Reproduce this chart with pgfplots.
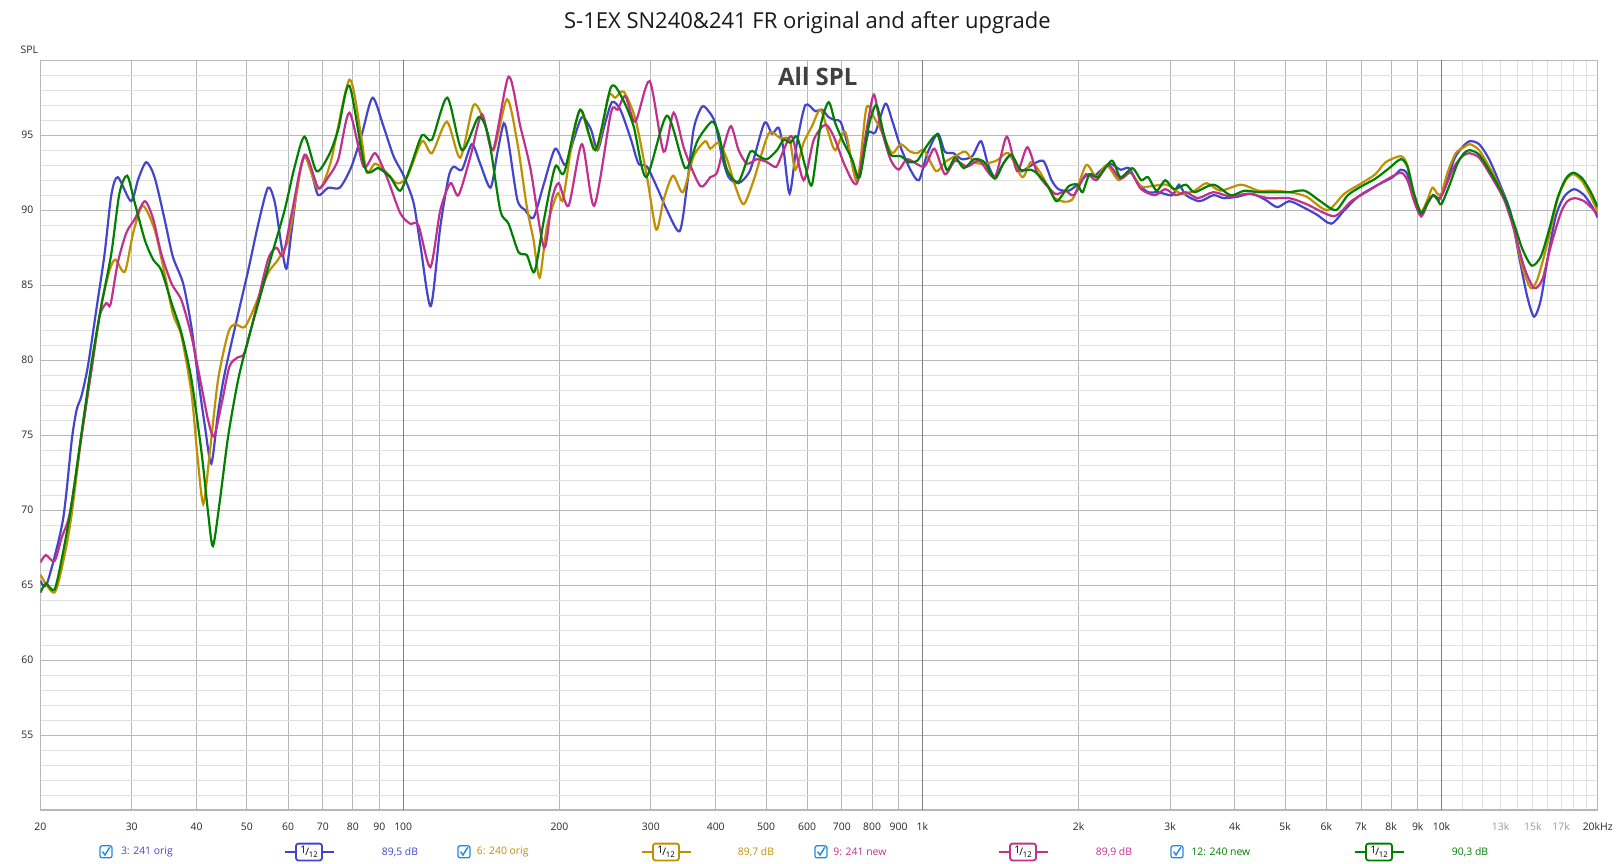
\documentclass[border=0pt]{standalone}
\usepackage{fontspec}
\setmainfont{Open Sans}
\usepackage{pgfplots}
\pgfplotsset{compat=1.18}

\definecolor{cblue}{RGB}{68,68,204}
\definecolor{cgold}{RGB}{192,144,0}
\definecolor{cmag}{RGB}{192,48,140}
\definecolor{cgreen}{RGB}{0,128,0}
\definecolor{gmaj}{RGB}{184,184,184}
\definecolor{gmin}{RGB}{224,224,224}
\definecolor{gdark}{RGB}{128,128,128}
\definecolor{chk}{RGB}{30,136,229}

\newcommand{\tfont}{\fontsize{5.2}{6}\selectfont}

% legend entry: checkbox x, label x, colour, label, 1/12 box x, dB text, dB x
\newcommand{\legitem}[7]{%
  \draw[chk, line width=0.6pt, rounded corners=1pt] ({#1-3},2.6) rectangle ({#1+3},8.6);
  \draw[chk, line width=0.7pt] ({#1-1.7},5.7) -- ({#1-0.5},4.0) -- ({#1+1.9},7.9);
  \node[anchor=west, inner sep=0pt, font=\tfont, text=#3] at (#2,5.5) {#4};
  \draw[#3, line width=0.9pt] ({#5-12.25},5.5) -- ({#5+12.25},5.5);
  \draw[#3, line width=0.9pt, rounded corners=1.2pt, fill=white] ({#5-6.5},1.3) rectangle ({#5+6.5},9.7);
  \node[inner sep=0pt, font=\tfont] at (#5,5.5) {\raisebox{1pt}{1}\kern-0.4pt/\kern-0.2pt\raisebox{-1.2pt}{\fontsize{3.9}{4}\selectfont 12}};
  \node[inner sep=0pt, font=\tfont, text=#3] at (#7,5.5) {#6};
}

\begin{document}
\begin{tikzpicture}[x=1pt,y=1pt]
\path[use as bounding box] (0,0) rectangle (808.5,431.5);
\begin{axis}[
    at={(20.15pt,26.5pt)}, anchor=south west,
    scale only axis, width=778.7pt, height=374.9pt,
    xmode=log, xmin=20, xmax=20000, ymin=50, ymax=100,
    clip mode=individual,
    axis line style={gmaj, line width=0.6pt},
    xtick={20,30,40,50,60,70,80,90,200,300,400,500,600,700,800,900,2000,3000,4000,5000,6000,7000,8000,9000,20000},
    xticklabels={20,30,40,50,60,70,80,90,200,300,400,500,600,700,800,900,2k,3k,4k,5k,6k,7k,8k,9k,20kHz},
    extra x ticks={100,1000,10000},
    extra x tick labels={100,1k,10k},
    extra x tick style={major grid style={gdark, line width=0.6pt}},
    minor xtick={11000,12000,13000,14000,15000,16000,17000,18000,19000},
    ytick={55,60,65,70,75,80,85,90,95},
    minor ytick={51,52,53,54,56,57,58,59,61,62,63,64,66,67,68,69,71,72,73,74,76,77,78,79,81,82,83,84,86,87,88,89,91,92,93,94,96,97,98,99},
    grid=both,
    major grid style={gmaj, line width=0.5pt},
    minor grid style={gmin, line width=0.5pt},
    major tick length=0pt, minor tick length=0pt,
    tick label style={font=\tfont, text=black!85},
    xticklabel style={yshift=-3pt},
    /pgf/number format/assume math mode=true,
]
% 3: 241 orig
\addplot[cblue, line width=1.1pt, smooth, tension=0.45] coordinates {
(20,65.3) (20.6,65.1) (22.1,69.3) (23.0,74.7) (23.5,76.7) (24.0,77.6) (24.7,79.6) (25.7,83.6) (26.6,87.1) (27.4,91.0) (28.2,92.2) (29.9,90.6) (30.9,92.1) (32.0,93.2) (33.2,92.2) (34.7,89.4) (36.0,86.9) (37.7,85.1) (39.1,82.2) (40.3,78.7) (41.5,75.6) (42.7,73.1) (44.0,76.5) (45.3,79.1) (48.1,83.1) (50.3,86.0) (52.6,89.1) (54.9,91.5) (56.6,90.5) (58.3,87.6) (59.6,86.1) (61.0,88.7) (62.8,92.0) (64.6,93.6) (66.6,92.5) (68.6,91.0) (71.7,91.5) (75.5,91.5) (79.5,92.9) (83.3,95.1) (87.3,97.5) (91.6,95.6) (95.8,93.6) (100.2,92.3) (104.7,90.5) (108.0,87.6) (113,83.6) (117.9,88.9) (122.3,92.2) (125.1,92.9) (129.8,92.7) (135.6,94.4) (140.7,93.1) (147.3,91.5) (151.8,93.8) (156.3,95.8) (159.6,94.5) (165.9,90.7) (171.8,90.0) (178.3,89.5) (186.8,91.8) (196.3,94.1) (205.2,93.0) (213.0,94.7) (221.0,96.2) (229.9,95.4) (236.8,94.0) (244.0,95.6) (252.4,97.2) (262.0,96.7) (274.7,94.7) (284.1,93.1) (294.9,92.9) (309.4,91.4) (322.2,90.0) (340.9,88.6) (352.1,91.6) (362.7,95.4) (376.3,96.9) (387.6,96.6) (399.2,95.8) (411.1,93.6) (423.6,92.2) (442.7,91.8) (466.3,92.7) (496.2,95.8) (513.4,95.1) (528.8,95.5) (540.6,94.0) (555.2,91.1) (573.6,94.5) (595.2,97.0) (622.1,96.6) (640.9,96.7) (660.1,96.2) (679.8,96.0) (695.7,95.9) (716.6,94.5) (748.6,92.0) (771.1,93.8) (788.4,95.2) (812.0,95.2) (848.8,97.1) (874.3,96.0) (908.3,94.2) (948.5,92.7) (985,92.0) (1023,93.8) (1071,95.1) (1105,93.9) (1148,93.8) (1192,93.4) (1248,93.6) (1297,94.6) (1337,93.1) (1379,92.2) (1432,93.1) (1477,93.6) (1546,92.6) (1606,92.9) (1708,93.3) (1774,92.0) (1829,91.4) (1915,91.3) (2005,91.8) (2067,92.3) (2147,92.3) (2214,92.7) (2300,93.1) (2408,92.7) (2502,92.8) (2599,91.8) (2721,91.2) (2849,91.2) (3029,91.0) (3122,91.7) (3219,91.0) (3422,90.6) (3638,91.0) (3809,90.8) (4049,90.9) (4304,91.1) (4575,90.7) (4826,90.2) (5092,90.6) (5413,90.2) (5754,89.7) (6135,89.1) (6502,90.0) (6911,90.9) (7460,91.6) (8052,92.2) (8347,92.7) (8598,92.4) (8856,90.7) (9136,89.6) (9396,90.5) (9637,91.0) (9895,90.8) (10136,91.4) (10580,93.4) (10974,94.2) (11337,94.6) (11817,94.4) (12353,93.4) (13005,91.6) (13599,89.8) (14111,86.9) (14637,84.2) (15082,82.9) (15534,84.0) (15999,86.7) (16605,89.6) (17231,90.9) (18006,91.4) (18829,91.0) (19539,90.2) (20000,89.5)
};
% 6: 240 orig
\addplot[cgold, line width=1.1pt, smooth, tension=0.45] coordinates {
(20,65.7) (21.3,64.5) (22.3,67.1) (23.0,69.8) (24.0,74.9) (25.1,79.4) (26.2,83.6) (27.2,86.0) (27.9,86.7) (29.1,85.9) (30.2,88.5) (31.5,90.3) (33.2,88.7) (34.7,85.8) (36.0,83.1) (37.4,81.6) (39.1,77.8) (40.1,73.8) (41.2,70.4) (42.4,73.8) (44.0,78.7) (46.0,81.8) (47.4,82.4) (49.5,82.2) (51.8,83.6) (54.9,85.8) (57.4,86.7) (60.0,88.0) (62.3,91.1) (64.6,93.6) (68.6,91.4) (72.5,93.2) (78.8,98.7) (83.0,94.9) (85.1,92.5) (88.3,93.1) (93.0,92.5) (97.2,91.8) (101.7,92.2) (108.7,94.6) (113.6,93.8) (121.4,95.9) (128.8,93.5) (136.6,97.0) (143.0,96.0) (149.3,94.0) (158.5,97.4) (165.9,94.5) (173.1,90.2) (178.3,88.0) (183.2,85.5) (189.2,88.9) (198.2,91.1) (203.1,90.7) (211.4,94.5) (219.3,96.7) (227.6,95.1) (236.8,94.1) (248.7,97.6) (256.2,97.5) (265.9,97.9) (280.0,96.1) (294.9,92.2) (307.3,88.7) (317.5,90.7) (330.9,92.3) (345.9,91.2) (362.7,93.6) (381.9,94.6) (390.5,94.1) (405.2,94.5) (420.5,93.4) (436.2,91.6) (452.8,90.4) (473.4,92.0) (505.7,95.1) (532.9,94.8) (555.2,94.7) (569.3,92.7) (590.7,94.5) (613.0,95.6) (636.5,96.7) (660.1,95.1) (679.8,94.0) (710.8,95.2) (748.6,91.9) (780.2,96.8) (806.8,96.2) (836.4,95.2) (874.3,93.8) (908.3,94.4) (948,93.9) (978,93.8) (1008,94.0) (1063,92.6) (1105,93.2) (1157,93.6) (1211,93.9) (1258,93.2) (1317,93.1) (1389,93.3) (1466,93.8) (1558,92.2) (1619,93.2) (1695,92.4) (1801,90.8) (1944,90.7) (2067,93.0) (2164,92.2) (2265,93.0) (2390,92.0) (2502,92.6) (2639,91.6) (2763,91.6) (2960,91.7) (3146,91.1) (3345,91.3) (3528,91.8) (3751,91.3) (4111,91.7) (4437,91.3) (4717,91.3) (5092,91.2) (5496,90.9) (6024,90.0) (6502,91.1) (7018,91.8) (7460,92.4) (7810,93.2) (8347,93.6) (8598,93.0) (8856,91.0) (9136,89.9) (9396,90.7) (9607,91.5) (9824,91.1) (9997,91.1) (10271,92.5) (10654,93.8) (11056,94.2) (11337,94.4) (11817,94.0) (12445,92.7) (13202,90.9) (13797,88.7) (14322,86.2) (14861,84.8) (15307,85.4) (15999,87.8) (16727,90.7) (17359,92.0) (17959,92.4) (18691,91.9) (19395,90.9) (20000,89.9)
};
% 9: 241 new
\addplot[cmag, line width=1.1pt, smooth, tension=0.45] coordinates {
(20,66.5) (20.5,67.0) (21.3,66.6) (22.0,68.2) (22.8,69.8) (24.0,74.9) (25.1,79.4) (26.0,82.9) (26.8,83.8) (27.3,83.7) (28.2,86.5) (29.3,88.5) (30.4,89.4) (31.8,90.6) (33.0,89.4) (34.2,87.1) (35.8,85.1) (37.4,84.0) (39.1,81.6) (40.9,78.2) (42.1,76.0) (43.2,74.9) (44.7,77.1) (46.3,79.6) (48.1,80.2) (49.5,80.5) (51.8,83.1) (54.9,86.7) (57.0,87.5) (58.7,87.0) (61.0,89.8) (64.6,93.7) (68.6,91.5) (71.7,92.2) (75.0,93.4) (78.8,96.5) (83.9,92.9) (88.3,93.8) (93.0,92.2) (98.7,89.8) (103.1,89.1) (107.0,89.0) (112.8,86.2) (117.9,90.0) (123.3,91.8) (127.8,91.0) (134.8,93.6) (141.8,96.4) (148.9,94.0) (159.6,98.9) (168.1,95.6) (176.0,92.7) (186.8,87.5) (193.5,90.7) (199.3,91.8) (208.3,90.3) (221.0,94.4) (233.4,90.3) (251.3,96.5) (258.9,96.7) (267.8,97.6) (280.0,95.9) (298.4,98.6) (317.5,93.9) (331.9,96.5) (348.4,94.0) (373.5,91.6) (390.5,92.2) (402.2,92.5) (414.2,94.2) (428.0,95.6) (442.7,94.0) (459.5,93.1) (480.2,93.4) (502.3,93.2) (523.2,92.9) (540.6,94.0) (561.1,94.9) (590.7,92.0) (618,94.7) (650.4,95.7) (675.4,94.9) (710.8,92.9) (748.6,91.8) (783.2,95.6) (806.8,97.7) (831,95.6) (867.9,93.4) (900.6,92.7) (935.6,93.4) (1008,92.9) (1055,94.1) (1105,92.4) (1157,93.3) (1220,92.9) (1287,93.3) (1379,92.2) (1454,94.9) (1523,92.6) (1594,94.2) (1669,92.4) (1801,91.1) (1886,91.3) (1959,91.0) (2067,92.4) (2164,92.0) (2283,93.0) (2408,92.1) (2521,92.5) (2639,91.4) (2806,91.0) (2937,91.4) (3075,91.0) (3219,91.2) (3396,90.8) (3638,91.2) (3927,90.9) (4238,91.1) (4645,90.8) (5092,90.8) (5496,90.4) (6210,89.6) (6703,90.6) (7235,91.3) (7810,92.0) (8347,92.5) (8598,92.0) (8856,90.6) (9136,89.6) (9396,90.4) (9637,91.0) (9895,90.7) (10136,91.4) (10580,92.9) (10974,93.6) (11304,93.8) (11817,93.5) (12445,92.3) (13202,90.7) (13797,88.7) (14429,86.2) (15082,84.8) (15651,85.4) (16241,87.6) (16973,89.8) (17482,90.6) (18066,90.8) (18829,90.6) (19539,90.1) (20000,89.7)
};
% 12: 240 new
\addplot[cgreen, line width=1.1pt, smooth, tension=0.45] coordinates {
(20,64.5) (20.5,65.1) (21.3,64.7) (22.1,67.1) (23.0,70.5) (24.0,75.1) (25.1,79.8) (26.2,83.6) (27.4,87.1) (28.4,91.1) (29.4,92.3) (30.4,90.5) (31.8,88.0) (33.0,86.7) (34.2,86.0) (35.8,83.8) (37.4,81.8) (39.1,78.7) (40.9,73.8) (42.1,69.8) (43.0,67.6) (44.3,70.5) (46.0,74.9) (48.1,78.7) (50.3,81.4) (52.6,83.8) (55.7,86.9) (59.1,90.0) (61.8,92.9) (64.6,94.9) (68.1,92.6) (72.0,93.7) (75.0,95.4) (78.8,98.3) (84.5,92.8) (89.6,92.8) (94.4,92.2) (98.7,91.3) (103.1,92.8) (108.7,95.0) (113.6,94.7) (121.6,97.5) (129.8,94.0) (139.7,96.2) (146.0,94.9) (153.8,90.0) (159.6,89.1) (166.8,87.2) (173.1,87.0) (179.1,85.9) (186.8,89.4) (196.3,92.9) (204.2,92.5) (219.3,96.7) (234.5,94.0) (251.3,98.2) (263.9,97.5) (277.9,95.6) (293.9,92.2) (322.2,96.3) (349.5,92.8) (369.7,94.7) (393.3,95.9) (405.2,95.1) (420.5,92.7) (442.7,91.9) (466.3,93.9) (483.8,93.6) (502.3,93.4) (524.8,94.0) (540.6,94.7) (556.9,94.5) (573.6,94.9) (595.2,92.9) (613.0,91.7) (636.5,95.6) (660.1,97.2) (679.8,95.8) (705.5,94.5) (732.2,93.4) (757.3,92.2) (788.4,95.6) (815.6,97.0) (842.6,95.1) (867.9,93.7) (908.3,93.6) (945,93.2) (978,93.3) (1016,94.2) (1071,95.0) (1113,92.7) (1157,93.5) (1202,92.8) (1258,93.4) (1317,93.2) (1379,92.1) (1432,93.1) (1484,93.7) (1546,92.7) (1619,92.7) (1669,92.4) (1747,91.6) (1815,90.6) (1915,91.6) (1990,91.7) (2036,91.2) (2099,92.4) (2180,92.2) (2318,93.3) (2408,92.2) (2540,92.8) (2639,92.0) (2721,92.2) (2827,91.3) (2937,92.0) (3052,91.4) (3219,91.7) (3345,91.2) (3638,91.7) (3927,91.0) (4174,91.3) (4437,91.2) (4789,91.2) (5092,91.2) (5454,91.3) (5842,90.6) (6258,90.0) (6602,91.0) (7018,91.6) (7460,92.1) (7930,92.8) (8347,93.4) (8598,92.9) (8856,91.1) (9136,89.8) (9396,90.5) (9637,91.0) (9824,90.7) (9997,90.4) (10344,91.6) (10733,93.1) (11056,93.8) (11337,94.0) (11817,93.7) (12445,92.5) (13202,90.9) (13797,89.1) (14322,87.4) (14928,86.3) (15534,86.9) (16121,88.7) (16727,90.8) (17359,92.1) (17959,92.5) (18691,92.1) (19395,91.2) (20000,90.2)
};
\node[anchor=north, font=\tfont, text=black!40, yshift=-3pt] at (axis cs:13000,50) {13k};
\node[anchor=north, font=\tfont, text=black!40, yshift=-3pt] at (axis cs:15000,50) {15k};
\node[anchor=north, font=\tfont, text=black!40, yshift=-3pt] at (axis cs:17000,50) {17k};
\end{axis}
\node[font=\fontsize{11}{13}\selectfont, text=black!90] at (403.7,420) {S-1EX SN240\&241 FR original and after upgrade};
\node[font=\fontsize{12}{14}\selectfont\bfseries, text=black!75] at (408.9,393.3) {All SPL};
\node[font=\tfont, text=black!85] at (14.7,406.75) {SPL};
\legitem{53}{60.3}{cblue}{3: 241 orig}{154.5}{89,5 dB}{200}
\legitem{232}{238.2}{cgold}{6: 240 orig}{333}{89,7 dB}{378}
\legitem{410.5}{416.5}{cmag}{9: 241 new}{511.5}{89,9 dB}{557}
\legitem{588.5}{595.5}{cgreen}{12: 240 new}{689.5}{90,3 dB}{735}
\end{tikzpicture}
\end{document}
